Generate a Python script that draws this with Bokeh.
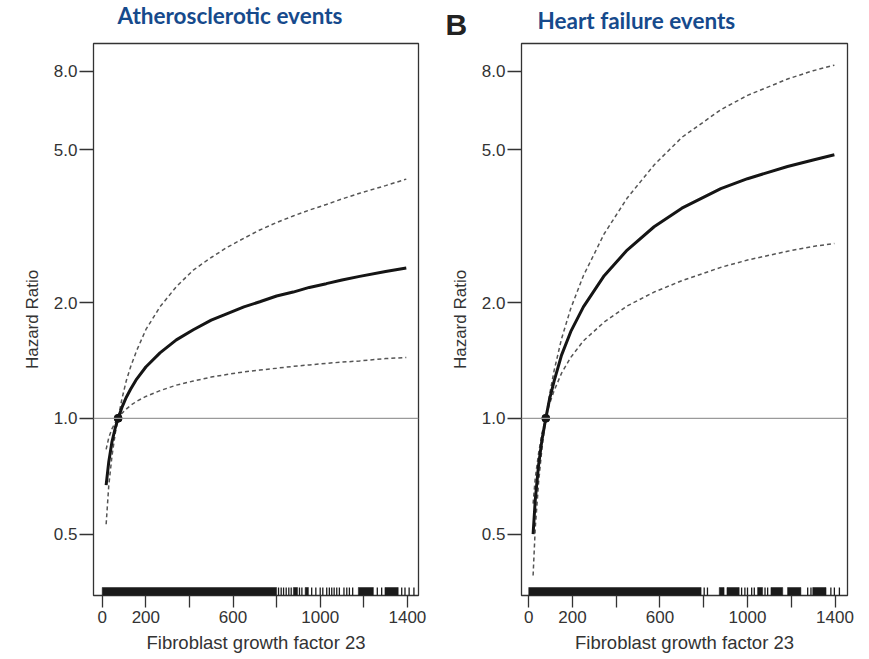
from bokeh.plotting import figure
from bokeh.layouts import row, column
from bokeh.models import FixedTicker, PrintfTickFormatter, Range1d, Span, LinearScale
from bokeh.core.properties import value
from bokeh.embed import file_html
from bokeh.resources import INLINE

# ---------------- data: panel A (Atherosclerotic events) ----------------
a_title = "Atherosclerotic  events"
a_x = [18, 30, 45, 60, 73, 90, 110, 130, 158, 200, 265, 340, 418, 500, 571, 650, 723, 800,
       876, 950, 1028, 1100, 1181, 1300, 1395]
a_hr = [0.67, 0.77, 0.87, 0.945, 1.00, 1.066, 1.133, 1.19, 1.265, 1.36, 1.48, 1.60, 1.70, 1.80,
        1.87, 1.95, 2.01, 2.08, 2.13, 2.19, 2.24, 2.29, 2.34, 2.41, 2.46]
a_upper = [0.83, 0.89, 0.94, 0.974, 1.00, 1.12, 1.25, 1.36, 1.50, 1.70, 1.95, 2.20, 2.43, 2.62,
           2.78, 2.94, 3.09, 3.23, 3.36, 3.48, 3.60, 3.72, 3.85, 4.03, 4.19]
a_lower = [0.53, 0.668, 0.80, 0.915, 1.00, 1.03, 1.056, 1.08, 1.107, 1.14, 1.18, 1.22, 1.25,
           1.28, 1.30, 1.32, 1.335, 1.35, 1.365, 1.377, 1.39, 1.40, 1.41, 1.43, 1.44]
a_ref = 73
a_rug_start = [0, 877, 931, 1175, 1297]
a_rug_end = [800, 896, 946, 1244, 1358]
a_rug_ticks = [809, 821, 832, 844, 856, 867, 905, 916, 961, 980, 1000, 1012, 1030, 1042,
               1053, 1064, 1076, 1088, 1109, 1122, 1134, 1149, 1262, 1282, 1374, 1389, 1408, 1430]

# ---------------- data: panel B (Heart failure events) ----------------
b_title = "Heart failure events"
b_letter = "B"
b_x = [20, 30, 45, 60, 78, 95, 116, 150, 192, 250, 345, 450, 573, 700, 878, 1000, 1183, 1300, 1397]
b_hr = [0.50, 0.614, 0.755, 0.875, 1.00, 1.12, 1.25, 1.46, 1.68, 1.95, 2.35, 2.74, 3.15, 3.52,
        3.96, 4.20, 4.52, 4.70, 4.85]
b_upper = [0.60, 0.70, 0.81, 0.91, 1.00, 1.15, 1.33, 1.61, 1.93, 2.35, 3.02, 3.74, 4.56, 5.38,
           6.35, 6.92, 7.63, 8.02, 8.29]
b_lower = [0.39, 0.52, 0.68, 0.83, 1.00, 1.09, 1.18, 1.31, 1.44, 1.59, 1.78, 1.96, 2.13, 2.28,
           2.47, 2.58, 2.72, 2.80, 2.85]
b_ref = 78
b_rug_start = [0, 871, 906, 1046, 1107, 1183, 1298]
b_rug_end = [788, 893, 962, 1069, 1161, 1244, 1359]
b_rug_ticks = [802, 817, 973, 988, 1000, 1019, 1031, 1080, 1092, 1275, 1290, 1381, 1397, 1420]

# ---------------- shared axis definitions ----------------
y_ticks = [0.5, 1.0, 2.0, 5.0, 8.0]
x_ticks = [0, 200, 400, 600, 800, 1000, 1200, 1400]
x_hidden = [400, 800, 1200]
y_label = "Hazard Ratio"
x_label = "Fibroblast growth factor 23"

FONT = "Liberation Sans"
TXT = "#333333"
BLUE = "#164a8c"
FRAME_W = 325
FRAME_H = 552
HEAD_H = 41
TOP_B = 2
BOT_B = 63


def panel(x, hr, up, lo, ref, rug_s, rug_e, rug_t, xr, border_left, border_right, frame_w):
    p = figure(width=border_left + frame_w + border_right, height=TOP_B + FRAME_H + BOT_B,
               y_axis_type="log", y_range=Range1d(0.346, 9.44), x_range=Range1d(*xr),
               output_backend="svg", toolbar_location=None,
               min_border_left=border_left, min_border_right=border_right,
               min_border_top=TOP_B, min_border_bottom=BOT_B)
    p.outline_line_color = "#333333"
    p.outline_line_width = 1.3
    p.xgrid.visible = False
    p.ygrid.visible = False

    p.extra_y_ranges = {"rug": Range1d(0, FRAME_H)}
    p.extra_y_scales = {"rug": LinearScale()}

    p.add_layout(Span(location=1.0, dimension="width", line_color="#9a9a9a", line_width=1.2))

    p.line(x, up, line_color="#555555", line_width=1.5, line_dash="4 3")
    p.line(x, lo, line_color="#555555", line_width=1.5, line_dash="4 3")
    p.line(x, hr, line_color="#151515", line_width=3)
    p.scatter([ref], [1.0], size=8, color="#151515")

    p.quad(left=rug_s, right=rug_e, bottom=0, top=8, y_range_name="rug",
           fill_color="#1a1a1a", line_color="#1a1a1a", line_width=0.5)
    p.segment(x0=rug_t, y0=0, x1=rug_t, y1=8, y_range_name="rug",
              line_color="#1a1a1a", line_width=1.3)

    p.yaxis.ticker = FixedTicker(ticks=y_ticks)
    p.yaxis.formatter = PrintfTickFormatter(format="%.1f")
    p.xaxis.ticker = FixedTicker(ticks=x_ticks)
    p.xaxis.major_label_overrides = {v: "" for v in x_hidden}
    for ax in (p.xaxis[0], p.yaxis[0]):
        ax.axis_line_color = None
        ax.major_tick_in = 0
        ax.major_tick_line_color = "#333333"
        ax.major_tick_line_width = 1.3
        ax.minor_tick_line_color = None
        ax.major_label_text_font = FONT
        ax.major_label_text_font_size = "17px"
        ax.major_label_text_color = TXT
        ax.axis_label_text_font = FONT
        ax.axis_label_text_font_style = "normal"
        ax.axis_label_text_color = TXT
    p.xaxis.major_tick_out = 12
    p.xaxis.major_label_standoff = 3
    p.xaxis.axis_label = x_label
    p.xaxis.axis_label_text_font_size = "18.5px"
    p.xaxis.axis_label_standoff = 6
    p.yaxis.major_tick_out = 14
    p.yaxis.major_label_standoff = 2
    p.yaxis.axis_label = y_label
    p.yaxis.axis_label_text_font_size = "17px"
    p.yaxis.axis_label_standoff = 9
    return p


LA, RA = 93, 10
LB, RB = 93, 14
wa = LA + FRAME_W + RA
wb = LB + FRAME_W + 1 + RB
W = wa + wb

# one full-width header strip holding the panel titles (page pixel coordinates)
head = figure(width=W, height=HEAD_H, x_range=Range1d(0, W), y_range=Range1d(HEAD_H, 0),
              x_axis_location=None, y_axis_location=None,
              output_backend="svg", toolbar_location=None,
              min_border=0, min_border_left=0, min_border_right=0,
              min_border_top=0, min_border_bottom=0)
head.grid.visible = False
head.outline_line_color = None
head_texts = [(117, 15, a_title, "Lato", "22.5px", BLUE),
              (445, 24, b_letter, FONT, "30px", "#222222"),
              (537, 20.3, b_title, "Lato", "22.5px", BLUE)]
for (tx, ty, t, font, size, color) in head_texts:
    head.text(x=[tx], y=[ty], text=[t], text_font=value(font), text_font_size=size,
              text_font_style="bold", text_color=color, text_align="left",
              text_baseline="middle")

pa = panel(a_x, a_hr, a_upper, a_lower, a_ref, a_rug_start, a_rug_end, a_rug_ticks,
           (-40, 1451), LA, RA, FRAME_W)
pb = panel(b_x, b_hr, b_upper, b_lower, b_ref, b_rug_start, b_rug_end, b_rug_ticks,
           (-33, 1457), LB, RB, FRAME_W + 1)

layout = column(head, row(pa, pb, spacing=0), spacing=0)
open("out.html", "w").write(file_html(layout, INLINE))
